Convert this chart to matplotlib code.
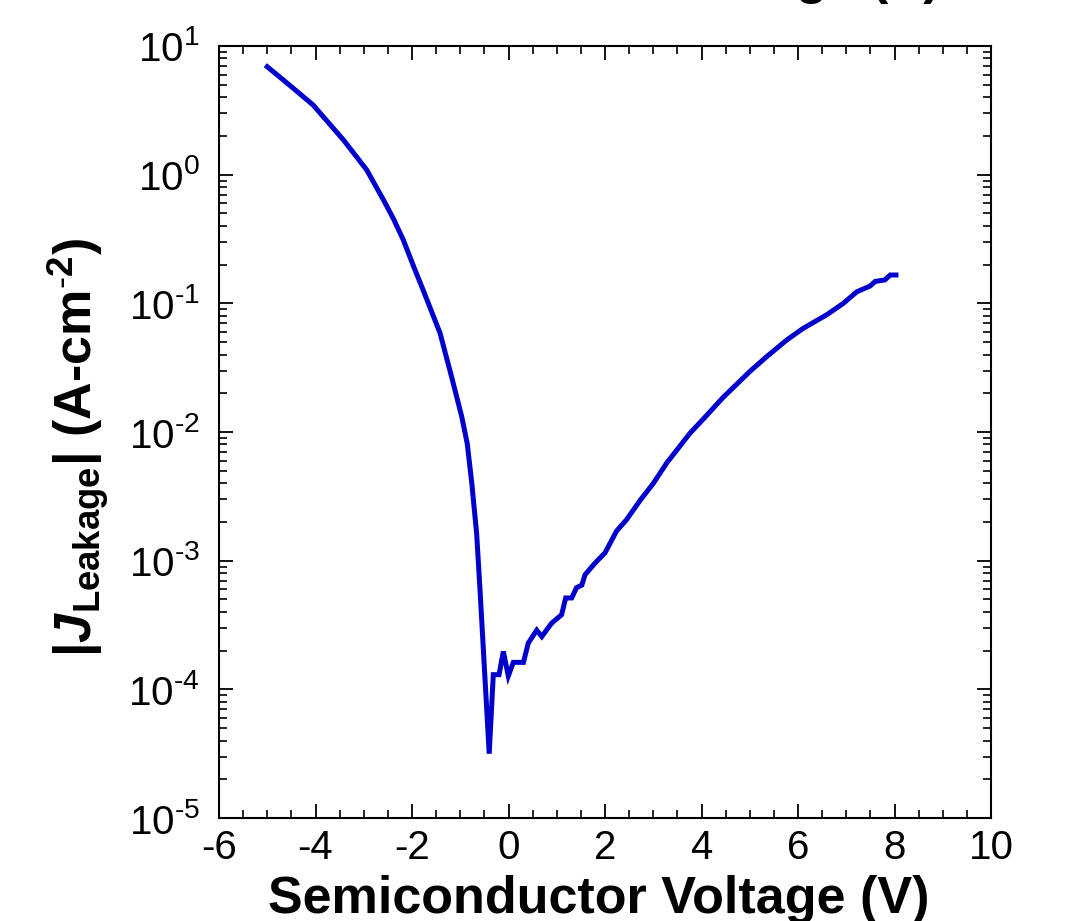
import matplotlib
matplotlib.use("Agg")
import matplotlib.pyplot as plt
from matplotlib.ticker import LogLocator, MultipleLocator, NullFormatter, FuncFormatter
import math

plt.rcParams['font.family'] = ['Liberation Sans', 'DejaVu Sans']
plt.rcParams['mathtext.fontset'] = 'custom'
plt.rcParams['mathtext.rm'] = 'Liberation Sans'
plt.rcParams['mathtext.it'] = 'Liberation Sans:italic'
plt.rcParams['mathtext.bf'] = 'Liberation Sans:bold'
plt.rcParams['mathtext.bfit'] = 'Liberation Sans:bold:italic'
plt.rcParams['mathtext.default'] = 'regular'
plt.rcParams['axes.unicode_minus'] = False

voltage = [-5.00, -4.50, -4.05, -3.42, -2.94, -2.59, -2.39, -2.18, -1.97, -1.77, -1.42,
           -1.18, -0.97, -0.855, -0.76, -0.66, -0.59, -0.40, -0.315, -0.196, -0.107,
           -0.004, 0.10, 0.31, 0.41, 0.585, 0.69, 0.895, 1.10, 1.185, 1.31,
           1.41, 1.52, 1.585, 1.79, 2.00, 2.24, 2.45, 2.73, 3.00, 3.28,
           3.76, 4.11, 4.45, 5.00, 5.35, 5.77, 6.11, 6.59, 6.94, 7.22,
           7.49, 7.60, 7.80, 7.91, 8.03]
j_leak = [6.90, 4.83, 3.48, 1.86, 1.09, 0.635, 0.458, 0.311, 0.195, 0.127, 0.0589,
          0.0269, 0.0132, 0.00813, 0.00398, 0.00162, 5.9e-4, 3.16e-5, 1.30e-4, 1.30e-4, 1.97e-4,
          1.27e-4, 1.62e-4, 1.62e-4, 2.29e-4, 2.88e-4, 2.57e-4, 3.27e-4, 3.80e-4, 5.13e-4, 5.13e-4,
          6.17e-4, 6.46e-4, 7.76e-4, 9.55e-4, 1.15e-3, 1.70e-3, 2.09e-3, 2.95e-3, 3.98e-3, 5.75e-3,
          9.77e-3, 0.0135, 0.0186, 0.0295, 0.0385, 0.052, 0.064, 0.0813, 0.100, 0.123,
          0.136, 0.148, 0.152, 0.166, 0.166]

xticks = [-6, -4, -2, 0, 2, 4, 6, 8, 10]
xlabel = "Semiconductor Voltage (V)"
ylabel = r"$\mathbf{|}\mathbfit{J}_{\mathbf{Leakage}}\mathbf{|}$ (A-cm$^{\mathbf{\text{-}2}}$)"
top_text = "Gate Voltage (V)"


def log_label(v, pos):
    if v <= 0:
        return ""
    e = int(round(math.log10(v)))
    return "10$^{\\text{%d}}$" % e


fig = plt.figure(figsize=(10.75, 9.21), dpi=100)
ax = fig.add_axes([219/1075, 1-818/921, 772/1075, 772/921])

ax.plot(voltage, j_leak, color='#0000CD', lw=3.6, solid_joinstyle='miter')
ax.set_yscale('log')
ax.set_xlim(-6, 10)
ax.set_ylim(1e-5, 1e1)
ax.set_xticks(xticks)
ax.set_xticklabels([str(t) for t in xticks])
ax.xaxis.set_minor_locator(MultipleLocator(0.5))
ax.yaxis.set_major_locator(LogLocator(base=10, numticks=20))
ax.yaxis.set_major_formatter(FuncFormatter(log_label))
ax.yaxis.set_minor_locator(LogLocator(base=10, subs=range(2, 10), numticks=100))
ax.yaxis.set_minor_formatter(NullFormatter())

for s in ax.spines.values():
    s.set_linewidth(1.5)
ax.tick_params(which='both', direction='in', top=True, right=True, labelsize=29)
ax.tick_params(which='major', length=10, width=1.3)
ax.tick_params(which='minor', length=5.5, width=1.2)
ax.tick_params(axis='x', which='major', pad=8)
ax.tick_params(axis='y', which='major', pad=14)

ax.set_xlabel(xlabel, fontsize=37.5, fontweight='bold')
ax.xaxis.set_label_coords(0.4916, -0.074)
ax.set_ylabel(ylabel, fontsize=37.5, fontweight='bold')
ax.yaxis.set_label_coords(-0.140, 0.48)

fig.text(940/1075, 1 + 7/921, top_text, fontsize=37.5, fontweight='bold',
         ha='right', va='baseline')

fig.savefig("out.png", dpi=100)
